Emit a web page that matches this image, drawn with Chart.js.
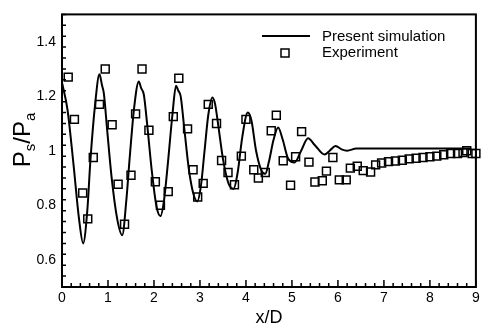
<!DOCTYPE html>
<html>
<head>
<meta charset="utf-8">
<script src="https://cdn.jsdelivr.net/npm/chart.js@4.4.1/dist/chart.umd.min.js"></script>
<style>
  html, body { margin: 0; padding: 0; background: #fff; }
  #wrap { width: 483px; height: 330px; }
</style>
</head>
<body>
<div id="wrap"><canvas id="c" width="483" height="330"></canvas></div>
<script>
// Chart data
var simX = [0.0, 0.12, 0.25, 0.37, 0.46, 0.55, 0.62, 0.72, 0.815, 0.87, 0.91, 0.98, 1.08, 1.2, 1.31,
            1.4, 1.47, 1.57, 1.67, 1.72, 1.78, 1.85, 1.95, 2.05, 2.14, 2.22, 2.3, 2.4, 2.48, 2.53,
            2.58, 2.66, 2.76, 2.86, 2.94, 3.02, 3.1, 3.18, 3.27, 3.33, 3.4, 3.5, 3.62, 3.73, 3.82,
            3.92, 4.04, 4.12, 4.22, 4.33, 4.42, 4.5, 4.6, 4.7, 4.8, 4.92, 5.06, 5.2, 5.35, 5.5,
            5.71, 5.82, 5.95, 6.08, 6.2, 6.4, 6.6, 7.0, 8.0, 8.9];
var simY = [1.25, 1.15, 0.95, 0.75, 0.66, 0.78, 0.97, 1.17, 1.28, 1.24, 1.21, 1.08, 0.9, 0.75, 0.69,
            0.82, 0.97, 1.16, 1.254, 1.23, 1.205, 1.10, 0.93, 0.8, 0.76, 0.82, 0.95, 1.13, 1.238, 1.22,
            1.20, 1.08, 0.93, 0.84, 0.814, 0.87, 1.0, 1.13, 1.195, 1.17, 1.09, 0.97, 0.88, 0.86, 0.92,
            1.05, 1.14, 1.11, 1.0, 0.93, 0.915, 0.96, 1.04, 1.085, 1.04, 0.97, 0.957, 1.0, 1.046, 1.02,
            0.986, 1.0, 1.017, 1.005, 1.0, 1.008, 1.008, 1.008, 1.008, 1.008];

var expX = [0.135, 0.27, 0.45, 0.56, 0.68, 0.815, 0.94, 1.09, 1.22, 1.36, 1.5, 1.6, 1.74, 1.89, 2.03,
            2.14, 2.31, 2.42, 2.54, 2.73, 2.85, 2.95, 3.07, 3.18, 3.36, 3.47, 3.61, 3.75, 3.9, 4.0,
            4.17, 4.27, 4.42, 4.55, 4.66, 4.81, 4.97, 5.08, 5.21, 5.37, 5.5, 5.66, 5.75, 5.89, 6.03,
            6.18, 6.27, 6.42, 6.55, 6.71, 6.82, 6.95, 7.1, 7.25, 7.4, 7.55, 7.7, 7.85, 8.0, 8.15,
            8.3, 8.45, 8.6, 8.72, 8.8, 8.92, 9.0];
var expY = [1.27, 1.115, 0.845, 0.75, 0.975, 1.17, 1.30, 1.095, 0.877, 0.73, 0.91, 1.135, 1.30, 1.075, 0.886,
            0.80, 0.85, 1.125, 1.266, 1.08, 0.93, 0.83, 0.88, 1.17, 1.10, 0.964, 0.92, 0.875, 0.98, 1.115,
            0.93, 0.90, 0.92, 1.073, 1.13, 0.963, 0.873, 0.978, 1.07, 0.958, 0.885, 0.89, 0.925, 0.975, 0.893,
            0.893, 0.936, 0.943, 0.927, 0.922, 0.948, 0.955, 0.96, 0.962, 0.965, 0.97, 0.972, 0.975, 0.978, 0.98,
            0.985, 0.99, 0.99, 0.993, 1.0, 0.99, 0.99];

var xTicks = [0, 1, 2, 3, 4, 5, 6, 7, 8, 9];
var yTicks = [0.6, 0.8, 1, 1.2, 1.4];

function toPoints(xs, ys) {
    return xs.map(function (x, i) { return { x: x, y: ys[i] }; });
}

// inward tick marks + frame + legend + y title with subscripts
var framePlugin = {
    id: 'framePlugin',
    afterDatasetsDraw: function (chart) {
        var ctx = chart.ctx, a = chart.chartArea;
        var xs = chart.scales.x, ys = chart.scales.y;
        var i, v, p;
        ctx.save();
        ctx.strokeStyle = '#000';
        ctx.lineWidth = 1.5;
        ctx.beginPath();
        for (i = 0; i <= 45; i++) {
            v = i * 0.2;
            p = xs.getPixelForValue(v);
            ctx.moveTo(p, a.bottom);
            ctx.lineTo(p, a.bottom - (i % 5 === 0 ? 7 : 4));
        }
        for (i = 0; i <= 25; i++) {
            v = 0.5 + i * 0.04;
            p = ys.getPixelForValue(v);
            var major = yTicks.some(function (t) { return Math.abs(t - v) < 1e-6; });
            ctx.moveTo(a.left, p);
            ctx.lineTo(a.left + (major ? 7 : 4), p);
        }
        ctx.stroke();
        ctx.lineWidth = 2;
        ctx.strokeRect(a.left, a.top, a.right - a.left, a.bottom - a.top);

        // legend
        var sim = chart.data.datasets[0], exp = chart.data.datasets[1];
        ctx.lineWidth = sim.borderWidth;
        ctx.beginPath();
        ctx.moveTo(262, 36);
        ctx.lineTo(310, 36);
        ctx.stroke();
        ctx.lineWidth = exp.borderWidth;
        ctx.strokeRect(281, 49, 8, 8);
        ctx.fillStyle = '#000';
        ctx.font = '15px "Liberation Sans", Arial, sans-serif';
        ctx.textAlign = 'left';
        ctx.textBaseline = 'alphabetic';
        ctx.fillText(sim.label, 322, 41);
        ctx.fillText(exp.label, 322, 57);

        // y axis title P_s/P_a
        ctx.translate(30, 140);
        ctx.rotate(-Math.PI / 2);
        var big = '24px "Liberation Sans", Arial, sans-serif';
        var small = '15px "Liberation Sans", Arial, sans-serif';
        var parts = [['P', big, 0], ['s', small, 5], ['/P', big, 0], ['a', small, 5]];
        var total = 0;
        parts.forEach(function (pt) { ctx.font = pt[1]; total += ctx.measureText(pt[0]).width; });
        var cx = -total / 2;
        parts.forEach(function (pt) {
            ctx.font = pt[1];
            ctx.fillText(pt[0], cx, pt[2]);
            cx += ctx.measureText(pt[0]).width;
        });
        ctx.restore();
    }
};

new Chart(document.getElementById('c'), {
    type: 'scatter',
    data: {
        datasets: [
            {
                label: 'Present simulation',
                data: toPoints(simX, simY),
                showLine: true,
                borderColor: '#000',
                borderWidth: 2,
                pointRadius: 0,
                cubicInterpolationMode: 'monotone',
                fill: false
            },
            {
                label: 'Experiment',
                data: toPoints(expX, expY),
                pointStyle: 'rect',
                pointRadius: 5.6,
                borderColor: '#000',
                borderWidth: 1.5,
                backgroundColor: 'rgba(0,0,0,0)',
                clip: false
            }
        ]
    },
    options: {
        responsive: false,
        animation: false,
        events: [],
        layout: { padding: { left: 0, right: 7, top: 6, bottom: 0 } },
        plugins: { legend: { display: false }, tooltip: { enabled: false } },
        scales: {
            x: {
                type: 'linear',
                min: 0, max: 9,
                afterBuildTicks: function (s) { s.ticks = xTicks.map(function (v) { return { value: v }; }); },
                afterFit: function (s) { s.height = 43; },
                grid: { display: false, drawTicks: false },
                border: { display: false },
                ticks: {
                    padding: 3,
                    color: '#000',
                    font: { family: '"Liberation Sans", Arial, sans-serif', size: 14 },
                    callback: function (v) { return String(v); }
                },
                title: {
                    display: true,
                    text: 'x/D',
                    color: '#000',
                    padding: { top: 1, bottom: 1 },
                    font: { family: '"Liberation Sans", Arial, sans-serif', size: 18 }
                }
            },
            y: {
                type: 'linear',
                min: 0.5, max: 1.5,
                afterBuildTicks: function (s) { s.ticks = yTicks.map(function (v) { return { value: v }; }); },
                afterFit: function (s) { s.width = 62; },
                grid: { display: false, drawTicks: false },
                border: { display: false },
                ticks: {
                    padding: 6,
                    color: '#000',
                    font: { family: '"Liberation Sans", Arial, sans-serif', size: 14 },
                    callback: function (v) { return String(v); }
                }
            }
        }
    },
    plugins: [framePlugin]
});
</script>
</body>
</html>
